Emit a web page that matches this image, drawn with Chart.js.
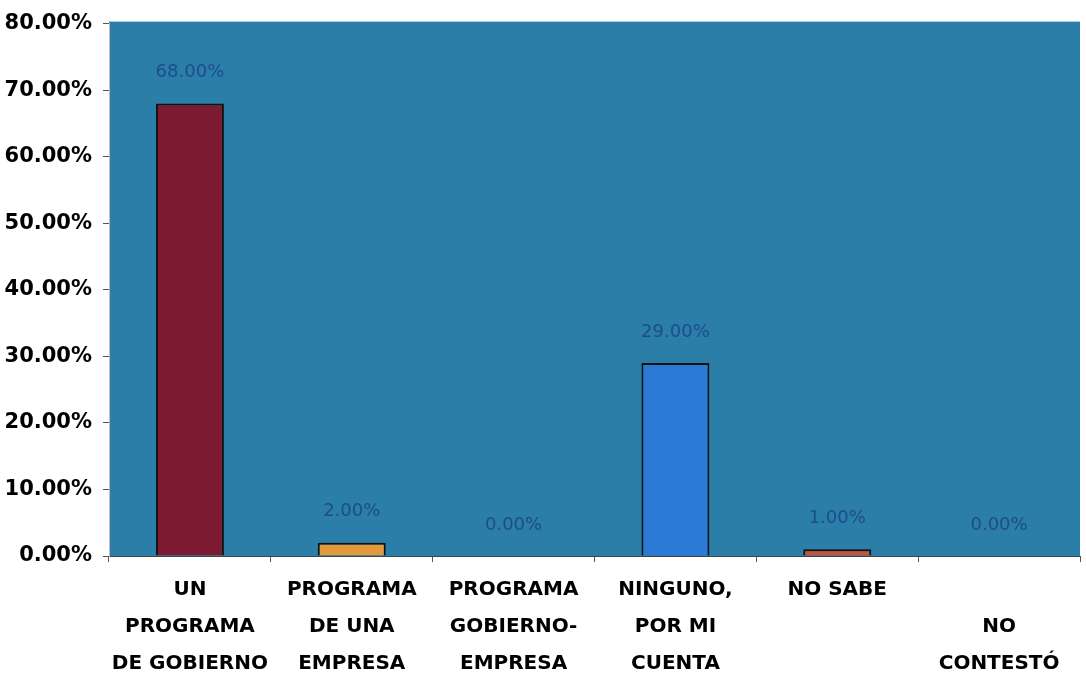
<!DOCTYPE html>
<html>
<head>
<meta charset="utf-8">
<script src="https://cdn.jsdelivr.net/npm/chart.js@4"></script>
<style>
html,body{margin:0;padding:0;background:#fff;}
#wrap{width:1086px;height:673px;}
</style>
</head>
<body>
<div id="wrap"><canvas id="c" width="1086" height="673"></canvas></div>
<script>
const categories = [
  ["UN", "PROGRAMA", "DE GOBIERNO"],
  ["PROGRAMA", "DE UNA", "EMPRESA"],
  ["PROGRAMA", "GOBIERNO-", "EMPRESA"],
  ["NINGUNO,", "POR MI", "CUENTA"],
  ["NO SABE"],
  ["", "NO", "CONTESTÓ"]
];
const values = [68, 2, 0, 29, 1, 0];
const barColors = ["#7b1a30", "#e39a3b", "#2f6fb8", "#2b7ad6", "#c9532e", "#2a6f9a"];
const yTicks = [0, 10, 20, 30, 40, 50, 60, 70, 80];

const bgPlugin = {
  id: 'bg',
  beforeDraw(chart) {
    const {ctx, chartArea: a} = chart;
    ctx.save();
    ctx.fillStyle = '#2a7ea8';
    ctx.fillRect(a.left, a.top - 2, a.right - a.left, a.bottom - a.top + 2);
    ctx.restore();
  }
};
const labelPlugin = {
  id: 'vlabels',
  afterDatasetsDraw(chart) {
    const {ctx} = chart;
    const meta = chart.getDatasetMeta(0);
    ctx.save();
    ctx.fillStyle = '#1f4c8a';
    ctx.font = '18px "DejaVu Sans", sans-serif';
    ctx.textAlign = 'center';
    ctx.textBaseline = 'middle';
    meta.data.forEach((bar, i) => {
      ctx.fillText(values[i].toFixed(2) + '%', bar.x, bar.y - 31);
    });
    ctx.restore();
  }
};

new Chart(document.getElementById('c'), {
  type: 'bar',
  data: {
    labels: categories,
    datasets: [{
      data: values,
      backgroundColor: barColors,
      borderColor: '#111',
      borderWidth: 2,
      borderSkipped: 'bottom',
      categoryPercentage: 1,
      barPercentage: 0.42
    }]
  },
  options: {
    responsive: false,
    animation: false,
    layout: {padding: {top: 20, right: 6, left: 0, bottom: 0}},
    plugins: {legend: {display: false}, tooltip: {enabled: false}},
    scales: {
      x: {
        afterFit(scale) { scale.height = 117; },
        grid: {display: true, drawOnChartArea: false, tickLength: 6, color: '#555', offset: true},
        border: {display: true, color: '#444', width: 1},
        ticks: {
          color: '#000',
          padding: 9,
          maxRotation: 0,
          autoSkip: false,
          font: {family: '"DejaVu Sans", sans-serif', size: 20, weight: 'bold', lineHeight: 1.85}
        }
      },
      y: {
        min: 0, max: 80,
        afterFit(scale) { scale.width = 109; },
        afterBuildTicks(axis) { axis.ticks = yTicks.map(v => ({value: v})); },
        grid: {display: true, drawOnChartArea: false, tickLength: 6, color: '#555'},
        border: {display: true, color: '#bbb', width: 1},
        ticks: {
          color: '#000',
          padding: 11,
          font: {family: '"DejaVu Sans", sans-serif', size: 21, weight: 'bold'},
          callback: v => v.toFixed(2) + '%'
        }
      }
    }
  },
  plugins: [bgPlugin, labelPlugin]
});
</script>
</body>
</html>
